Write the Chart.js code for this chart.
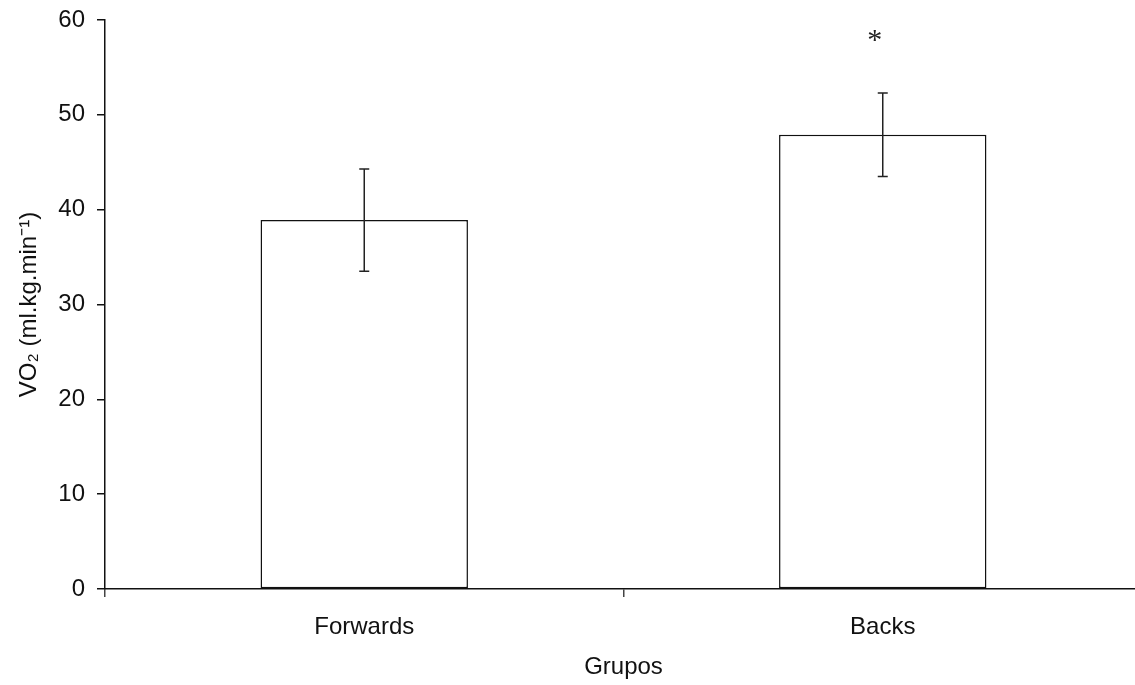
<!DOCTYPE html>
<html>
<head>
<meta charset="utf-8">
<script src="https://cdn.jsdelivr.net/npm/chart.js@4/dist/chart.umd.min.js"></script>
<style>
html, body { margin: 0; padding: 0; background: #fff; overflow: hidden; }
#wrap { position: absolute; left: 0; top: 0; width: 1142px; height: 685px; }
</style>
</head>
<body>
<div id="wrap"><canvas id="grafico"></canvas></div>
<script>
var grupos = ['Forwards', 'Backs'];
var vo2 = [38.9, 47.9];
var erro = [5.4, 4.4];
var marcas = ['', '*'];
var marca_valor = [null, 58];

var errorBars = {
    id: 'errorBars',
    afterDatasetsDraw: function(chart) {
        var ctx = chart.ctx;
        var y = chart.scales.y;
        var meta = chart.getDatasetMeta(0);
        ctx.save();
        ctx.strokeStyle = '#222';
        ctx.lineWidth = 1.5;
        meta.data.forEach(function(bar, i) {
            var top = y.getPixelForValue(vo2[i] + erro[i]);
            var bot = y.getPixelForValue(vo2[i] - erro[i]);
            ctx.beginPath();
            ctx.moveTo(bar.x, top); ctx.lineTo(bar.x, bot);
            ctx.moveTo(bar.x - 5, top); ctx.lineTo(bar.x + 5, top);
            ctx.moveTo(bar.x - 5, bot); ctx.lineTo(bar.x + 5, bot);
            ctx.stroke();
            if (marcas[i]) {
                ctx.fillStyle = '#222';
                ctx.font = '30px "Liberation Serif"';
                ctx.textAlign = 'center';
                ctx.textBaseline = 'middle';
                ctx.fillText(marcas[i], bar.x - 8, y.getPixelForValue(marca_valor[i]) + 2);
            }
        });
        ctx.restore();
    }
};

var fuente = { family: 'Liberation Sans', size: 24 };

var ctx = document.getElementById('grafico').getContext('2d');
var myChart = new Chart(ctx, {
    type: 'bar',
    data: {
        labels: grupos,
        datasets: [{
            label: 'VO2',
            data: vo2,
            backgroundColor: '#fff',
            borderColor: '#111',
            borderWidth: 1.5,
            borderSkipped: false,
            barPercentage: 0.4,
            categoryPercentage: 1.0
        }]
    },
    options: {
        responsive: true,
        maintainAspectRatio: false,
        animation: false,
        layout: { padding: { top: 20, right: 0, left: 0, bottom: 0 } },
        scales: {
            x: {
                afterFit: function(s) { s.height = 96; s.paddingLeft = 0; s.paddingRight = 0; },
                border: { color: '#111', width: 1.5 },
                grid: { offset: true, drawOnChartArea: false, drawTicks: true, tickLength: 8, color: '#444', lineWidth: 1.5 },
                ticks: { color: '#111', padding: 16, font: fuente },
                title: { display: true, text: 'Grupos', color: '#111', padding: { top: 0, bottom: 3 }, font: fuente }
            },
            y: {
                min: 0,
                max: 60,
                afterFit: function(s) { s.width = 105; s.paddingTop = 0; s.paddingBottom = 0; },
                border: { color: '#111', width: 1.5 },
                grid: { drawOnChartArea: false, drawTicks: true, tickLength: 8, color: '#111', lineWidth: 1.5 },
                ticks: { stepSize: 10, color: '#111', padding: 12, font: fuente },
                title: { display: true, text: 'VO₂ (ml.kg.min⁻¹)', color: '#111', padding: { top: 15, bottom: 0 }, font: fuente }
            }
        },
        plugins: {
            legend: { display: false },
            tooltip: { enabled: false }
        }
    },
    plugins: [errorBars]
});
</script>
</body>
</html>
